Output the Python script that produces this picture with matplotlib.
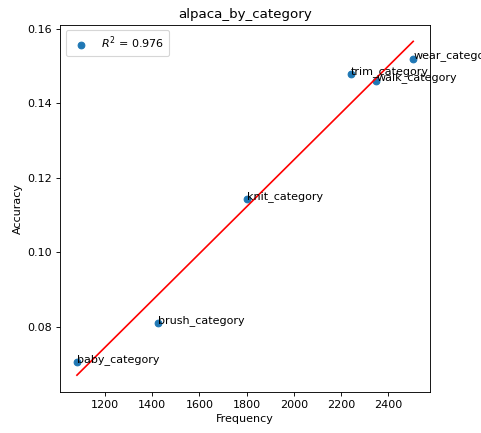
import numpy as np
import matplotlib
matplotlib.use('Agg')
import matplotlib.pyplot as plt

# Частота та точність для кожної категорії
categories = ['baby_category', 'brush_category', 'knit_category',
              'trim_category', 'walk_category', 'wear_category']
frequency = [1082, 1426, 1802, 2242, 2349, 2505]
accuracy = [0.0705, 0.0811, 0.1143, 0.1478, 0.1461, 0.1518]
r2_label = 0.976

x = np.array(frequency)
y = np.array(accuracy)

# Лінійна регресія
slope, intercept = np.polyfit(x, y, 1)
x_line = np.linspace(x.min(), x.max(), 100)

fig, ax = plt.subplots(figsize=(481 / 80, 433 / 80), dpi=80)
ax.scatter(x, y, label=f'$R^2$ = {r2_label:.3f}')
ax.plot(x_line, slope * x_line + intercept, color='red')

for name, xi, yi in zip(categories, x, y):
    ax.text(xi, yi, name)

ax.set_title('alpaca_by_category')
ax.set_xlabel('Frequency')
ax.set_ylabel('Accuracy')
ax.legend(loc='upper left')

fig.subplots_adjust(left=0.125, right=0.894, top=0.943, bottom=0.095)
fig.savefig('out.png')
